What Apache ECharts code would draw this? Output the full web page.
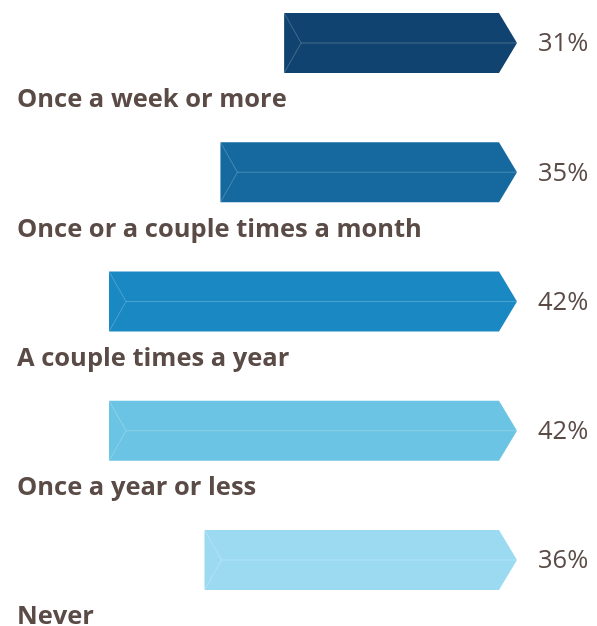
<!DOCTYPE html>
<html>
<head>
<meta charset="utf-8">
<script src="https://cdn.jsdelivr.net/npm/echarts@6/dist/echarts.min.js"></script>
<style>html,body{margin:0;padding:0;background:#fff}#c{width:597px;height:626px}</style>
</head>
<body>
<div id="c"></div>
<script>
const categories = ['Once a week or more', 'Once or a couple times a month', 'A couple times a year', 'Once a year or less', 'Never'];
const values = [31, 35, 42, 42, 36];
const barColors = ['#10436f', '#15699f', '#1a88c3', '#6bc4e3', '#9cdaf2'];

const AXIS_MIN = 17.5;
const AXIS_MAX = 42;
const TEXT = '#5a4b46';

const chart = echarts.init(document.getElementById('c'), null, {renderer: 'canvas'});
chart.setOption({
  animation: false,
  grid: {left: 109, right: 98, top: 43, bottom: 66},
  xAxis: {type: 'value', inverse: true, min: AXIS_MIN, max: AXIS_MAX, show: false},
  yAxis: {type: 'category', data: categories, inverse: true, boundaryGap: false, show: false},
  series: [{
    type: 'custom',
    data: values.map((v, i) => [v, i]),
    renderItem: function (params, api) {
      const i = api.value(1);
      const v = api.value(0);
      const left = api.coord([v, i]);
      const right = api.coord([AXIS_MIN, i]);
      const band = api.size([0, 1])[1];
      const h = band * 0.465;
      const x0 = left[0], x1 = right[0], cy = left[1];
      const tip = 18, notch = 17;
      const top = cy - h / 2, bot = cy + h / 2;
      const color = barColors[i];
      const lineC = 'rgba(255,255,255,0.22)';
      return {
        type: 'group',
        children: [
          {type: 'polygon', shape: {points: [[x0, top], [x1, top], [x1 + tip, cy], [x1, bot], [x0, bot]]}, style: {fill: color}},
          {type: 'polyline', shape: {points: [[x0, top], [x0 + notch, cy], [x0, bot]]}, style: {stroke: lineC, lineWidth: 1, fill: null}},
          {type: 'line', shape: {x1: x0 + notch, y1: cy, x2: x1 + tip, y2: cy}, style: {stroke: lineC, lineWidth: 1}},
          {type: 'text', style: {x: x1 + tip + 21, y: cy + 1, text: v + '%', fill: TEXT, font: '400 25.5px "Open Sans"', align: 'left', verticalAlign: 'middle'}},
          {type: 'text', style: {x: 17, y: cy + 57, text: categories[i], fill: TEXT, font: 'bold 25.5px "Open Sans"', align: 'left', verticalAlign: 'middle'}}
        ]
      };
    }
  }]
});
</script>
</body>
</html>
